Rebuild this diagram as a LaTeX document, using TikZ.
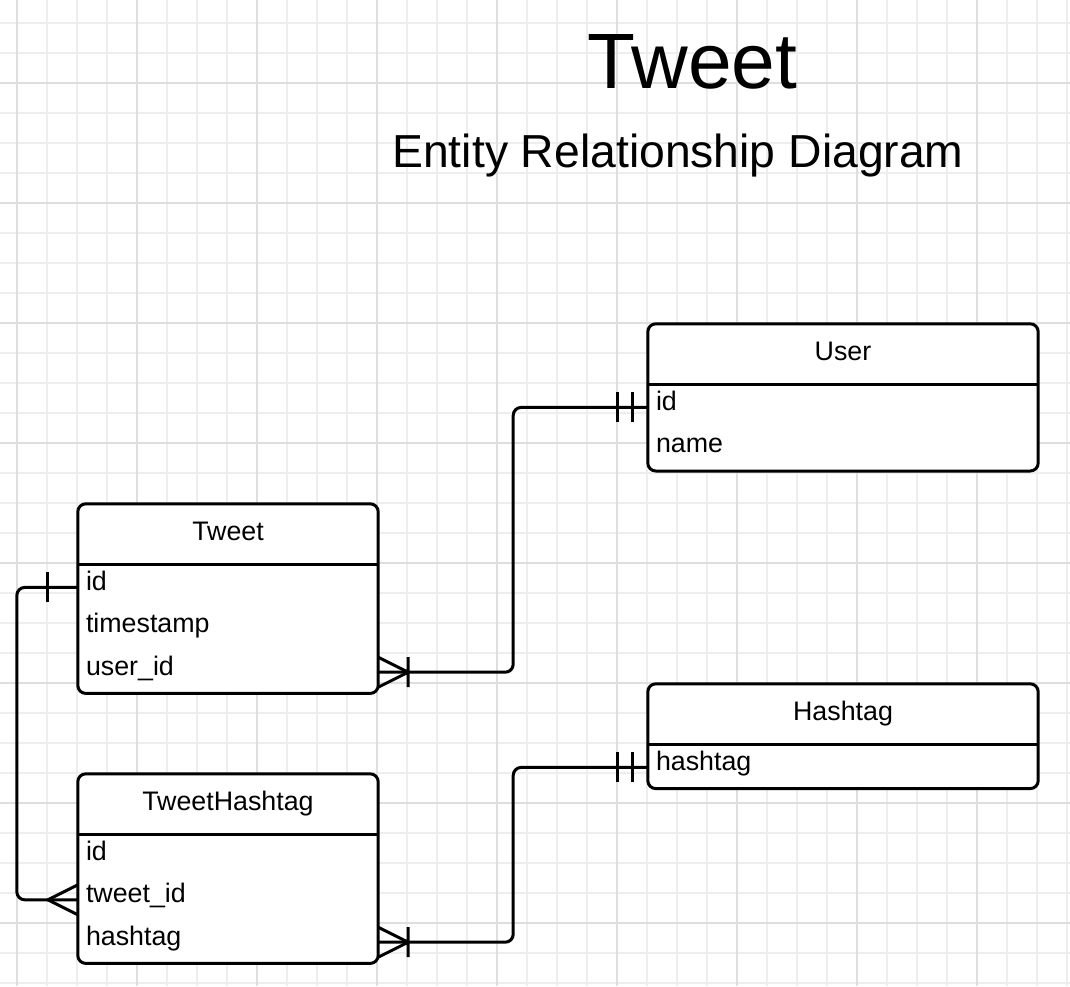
\documentclass[tikz,border=0pt]{standalone}
\usepackage{fontspec}
\setmainfont{Liberation Sans}
\usetikzlibrary{positioning,fit,backgrounds}

\tikzset{
	pics/barone/.style={code={\draw[line width=3pt] (30,-15) -- (30,15);}},
	pics/bartwo/.style={code={\draw[line width=3pt] (15,-15) -- (15,15) (30,-15) -- (30,15);}},
	pics/crow/.style={code={\draw[line width=3pt] (0,-15) -- (30,0) (0,15) -- (30,0);}},
	pics/crowbar/.style={code={\draw[line width=3pt] (0,-15) -- (30,0) (0,15) -- (30,0) (30,-15) -- (30,15);}},
}

\begin{document}
\begin{tikzpicture}[x=1pt,y=-1pt,
	minor/.style={line width=1.5pt,draw=gray!13},
	major/.style={line width=1.5pt,draw=gray!26},
	head/.style={text width=#1,align=center,minimum height=60pt,text height=36pt,text depth=24pt,inner sep=0pt,font=\fontsize{26.8}{30}\selectfont},
	field/.style={text width=#1,align=left,minimum height=42pt,text height=24pt,text depth=18pt,inner ysep=0pt,inner xsep=8pt,font=\fontsize{26.8}{30}\selectfont},
	frame/.style={draw,fill=white,line width=3pt,rounded corners=8pt,inner sep=0pt},
	rel/.style={line width=3pt,rounded corners=8pt}]
	\useasboundingbox (0,0) rectangle (1070,986);
	% grid paper
	\begin{scope}[on background layer]
	\foreach \x in {17,47,...,1067} \draw[minor] (\x,0) -- (\x,986);
	\foreach \y in {23,53,...,983} \draw[minor] (0,\y) -- (1070,\y);
	\foreach \x in {17,137,...,977} \draw[major] (\x,0) -- (\x,986);
	\foreach \y in {83,203,...,923} \draw[major] (0,\y) -- (1070,\y);
	\end{scope}
	\node[anchor=base,font=\fontsize{78.5}{90}\selectfont] (title) at (692.5,88){Tweet};
	\node[anchor=base,font=\fontsize{46.3}{54}\selectfont] (subtitle) at (678,167){Entity Relationship Diagram};
	% tables
	\node[head=390pt] (user-head) at (843,354){User};
	\node[field=374pt,below=2pt of user-head] (user-id){id};
	\node[field=374pt,below=0pt of user-id] (user-name){name};
	\node[head=300pt] (tweet-head) at (228,534){Tweet};
	\node[field=284pt,below=2pt of tweet-head] (tweet-id){id};
	\node[field=284pt,below=0pt of tweet-id] (tweet-ts){timestamp};
	\node[field=284pt,below=0pt of tweet-ts] (tweet-userid){user\_id};
	\node[head=390pt] (hashtag-head) at (843,714){Hashtag};
	\node[field=374pt,below=2pt of hashtag-head] (hashtag-hashtag){hashtag};
	\node[head=300pt] (th-head) at (228,804){TweetHashtag};
	\node[field=284pt,below=2pt of th-head] (th-id){id};
	\node[field=284pt,below=0pt of th-id] (th-tweetid){tweet\_id};
	\node[field=284pt,below=0pt of th-tweetid] (th-hashtag){hashtag};
	\begin{scope}[on background layer]
	\node[frame,fit=(user-head)(user-name)] (user){};
	\node[frame,fit=(tweet-head)(tweet-userid)] (tweet){};
	\node[frame,fit=(hashtag-head)(hashtag-hashtag)] (hashtag){};
	\node[frame,fit=(th-head)(th-hashtag)] (th){};
	\end{scope}
	\foreach \t in {user,tweet,hashtag,th}
		\draw[line width=3pt] (\t-head.south west) -- (\t-head.south east);
	% relations
	\draw[rel] (tweet-userid.east) -- ++(135,0) |- (user-id.west);
	\draw[rel] (th-hashtag.east) -- ++(135,0) |- (hashtag-hashtag.west);
	\draw[rel] (tweet-id.west) -- ++(-61,0) |- (th-tweetid.west);
	\pic at (tweet-userid.east) {crowbar};
	\pic[rotate=180] at (user-id.west) {bartwo};
	\pic at (th-hashtag.east) {crowbar};
	\pic[rotate=180] at (hashtag-hashtag.west) {bartwo};
	\pic[rotate=180] at (tweet-id.west) {barone};
	\pic[rotate=180] at (th-tweetid.west) {crow};
\end{tikzpicture}
\end{document}
